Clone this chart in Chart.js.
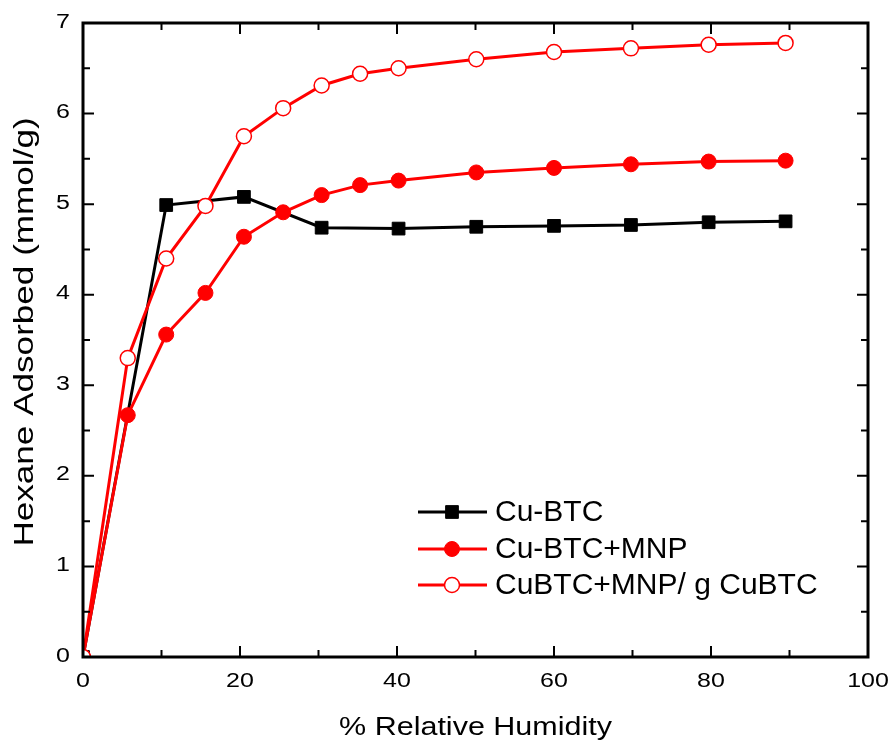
<!DOCTYPE html>
<html>
<head>
<meta charset="utf-8">
<script src="https://cdn.jsdelivr.net/npm/chart.js@4.4.0/dist/chart.umd.min.js"></script>
<style>
  body { margin: 0; background: #fff; }
</style>
</head>
<body>
<canvas id="myChart" width="890" height="740"></canvas>
<script>
  // % relative humidity and hexane uptake (mmol/g)
  const rhCuBtc = [0, 10.6, 20.5, 30.4, 40.2, 50.1, 60.0, 69.8, 79.7, 89.5];
  const cuBtc = [0, 4.99, 5.08, 4.74, 4.73, 4.75, 4.76, 4.77, 4.80, 4.81];

  const rhMnp = [0, 5.7, 10.6, 15.6, 20.5, 25.5, 30.4, 35.3, 40.2, 50.1, 60.0, 69.8, 79.7, 89.5];
  const cuBtcMnp = [0, 2.67, 3.56, 4.02, 4.64, 4.91, 5.10, 5.21, 5.26, 5.35, 5.40, 5.44, 5.47, 5.48];
  const cuBtcMnpPerG = [0, 3.30, 4.40, 4.98, 5.75, 6.06, 6.31, 6.44, 6.50, 6.60, 6.68, 6.72, 6.76, 6.78];

  const xTicks = [0, 20, 40, 60, 80, 100];
  const yTicks = [0, 1, 2, 3, 4, 5, 6, 7];

  const xTitle = '% Relative Humidity';
  const yTitle = 'Hexane Adsorbed (mmol/g)';

  function toPoints(xs, ys) {
    return xs.map(function (x, i) { return { x: x, y: ys[i] }; });
  }

  const data = {
    datasets: [{
      label: 'Cu-BTC',
      data: toPoints(rhCuBtc, cuBtc),
      borderColor: '#000000',
      backgroundColor: '#000000',
      pointStyle: 'rect',
      pointRadius: 9,
      pointBorderWidth: 1,
      order: 3
    }, {
      label: 'Cu-BTC+MNP',
      data: toPoints(rhMnp, cuBtcMnp),
      borderColor: '#ff0000',
      backgroundColor: '#ff0000',
      pointStyle: 'circle',
      pointRadius: 7.5,
      pointBorderWidth: 1,
      order: 2
    }, {
      label: 'CuBTC+MNP/ g CuBTC',
      data: toPoints(rhMnp, cuBtcMnpPerG),
      borderColor: '#ff0000',
      backgroundColor: '#ffffff',
      pointStyle: 'circle',
      pointRadius: 7.5,
      pointBorderWidth: 1.5,
      order: 1
    }]
  };

  // text squeezed/stretched along its own direction
  function stretchText(ctx, text, x, y, sx, align, baseline, angle) {
    ctx.save();
    ctx.translate(x, y);
    if (angle) ctx.rotate(angle);
    ctx.scale(sx, 1);
    ctx.textAlign = align;
    ctx.textBaseline = baseline;
    ctx.fillText(text, 0, 0);
    ctx.restore();
  }

  function drawMarker(ctx, ds, x, y) {
    ctx.save();
    ctx.fillStyle = ds.backgroundColor;
    ctx.strokeStyle = ds.borderColor;
    ctx.lineWidth = ds.pointBorderWidth;
    ctx.beginPath();
    if (ds.pointStyle === 'rect') {
      const s = ds.pointRadius * Math.SQRT1_2;
      ctx.rect(x - s, y - s, 2 * s, 2 * s);
    } else {
      ctx.arc(x, y, ds.pointRadius, 0, Math.PI * 2);
    }
    ctx.fill();
    ctx.stroke();
    ctx.restore();
  }

  // frame, inward ticks, labels, titles and legend
  const framePlugin = {
    id: 'frame',
    afterDraw(chart) {
      const ctx = chart.ctx;
      const a = chart.chartArea;
      const xs = chart.scales.x;
      const ys = chart.scales.y;

      ctx.save();
      ctx.strokeStyle = '#000';
      ctx.lineWidth = 2;
      ctx.beginPath();
      for (let v = 0; v <= 100; v += 10) {
        const px = xs.getPixelForValue(v);
        const len = v % 20 === 0 ? 11 : 7;
        ctx.moveTo(px, a.bottom); ctx.lineTo(px, a.bottom - len);
        ctx.moveTo(px, a.top); ctx.lineTo(px, a.top + len);
      }
      for (let v = 0; v <= 7; v += 0.5) {
        const py = ys.getPixelForValue(v);
        const len = v % 1 === 0 ? 11 : 7;
        ctx.moveTo(a.left, py); ctx.lineTo(a.left + len, py);
        ctx.moveTo(a.right, py); ctx.lineTo(a.right - len, py);
      }
      ctx.stroke();

      ctx.lineWidth = 3;
      ctx.strokeRect(a.left, a.top, a.right - a.left, a.bottom - a.top);

      ctx.fillStyle = '#000';
      ctx.font = '20px "Liberation Sans", Arial, sans-serif';
      xTicks.forEach(function (v) {
        stretchText(ctx, String(v), xs.getPixelForValue(v), 681, 1.25, 'center', 'middle');
      });
      yTicks.forEach(function (v) {
        stretchText(ctx, String(v), 70, ys.getPixelForValue(v) - 1, 1.25, 'right', 'middle');
      });

      ctx.font = '25px "Liberation Sans", Arial, sans-serif';
      stretchText(ctx, xTitle, (a.left + a.right) / 2, 735, 1.22, 'center', 'alphabetic');
      ctx.font = '27px "Liberation Sans", Arial, sans-serif';
      stretchText(ctx, yTitle, 33, 332, 1.3, 'center', 'alphabetic', -Math.PI / 2);

      // legend
      ctx.font = '30px "Liberation Sans", Arial, sans-serif';
      const rows = [512, 549, 585];
      chart.data.datasets.forEach(function (ds, i) {
        const y = rows[i];
        ctx.strokeStyle = ds.borderColor;
        ctx.lineWidth = 3;
        ctx.beginPath();
        ctx.moveTo(418, y); ctx.lineTo(487, y);
        ctx.stroke();
        drawMarker(ctx, ds, 452, y);
        ctx.fillStyle = '#000';
        ctx.textAlign = 'left';
        ctx.textBaseline = 'middle';
        ctx.fillText(ds.label, 495, y + 1);
      });
      ctx.restore();
    }
  };

  const config = {
    type: 'scatter',
    data: data,
    options: {
      responsive: false,
      animation: false,
      showLine: true,
      layout: { padding: { left: 83, right: 22, top: 23, bottom: 83 } },
      elements: {
        line: { borderWidth: 3, tension: 0 }
      },
      datasets: {
        scatter: { clip: 0 }
      },
      scales: {
        x: { type: 'linear', min: 0, max: 100, display: false },
        y: { type: 'linear', min: 0, max: 7, display: false }
      },
      plugins: {
        legend: { display: false },
        tooltip: { enabled: false }
      }
    },
    plugins: [framePlugin]
  };

  const myChart = new Chart(document.getElementById('myChart'), config);
</script>
</body>
</html>
